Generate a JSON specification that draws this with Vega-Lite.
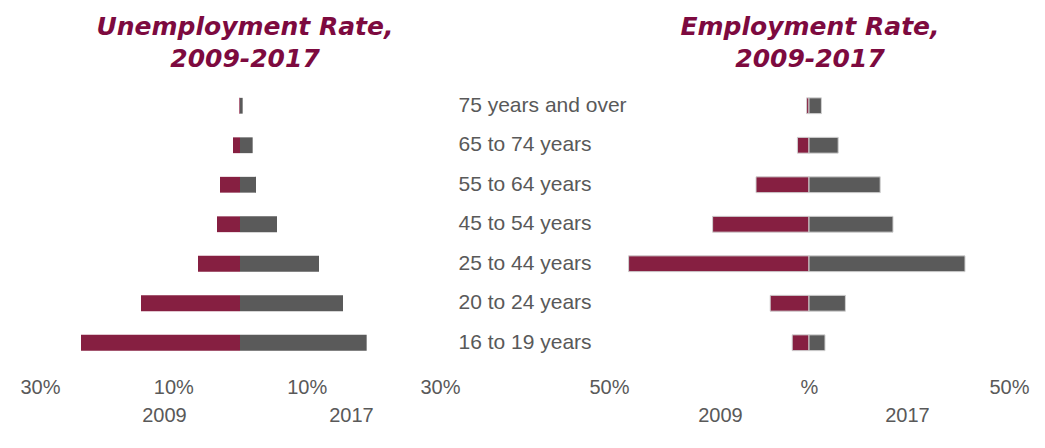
{
  "$schema": "https://vega.github.io/schema/vega-lite/v6.json",
  "background": "white",
  "padding": {"left": 19, "top": 15, "right": 5, "bottom": 5},
  "datasets": {
    "unemp": [
      {"age": "75 years and over", "year": "2009", "rate": 0.1},
      {"age": "75 years and over", "year": "2017", "rate": 0.4},
      {"age": "65 to 74 years", "year": "2009", "rate": 1.05},
      {"age": "65 to 74 years", "year": "2017", "rate": 1.9},
      {"age": "55 to 64 years", "year": "2009", "rate": 3.0},
      {"age": "55 to 64 years", "year": "2017", "rate": 2.4},
      {"age": "45 to 54 years", "year": "2009", "rate": 3.45},
      {"age": "45 to 54 years", "year": "2017", "rate": 5.55},
      {"age": "25 to 44 years", "year": "2009", "rate": 6.3},
      {"age": "25 to 44 years", "year": "2017", "rate": 11.85},
      {"age": "20 to 24 years", "year": "2009", "rate": 14.85},
      {"age": "20 to 24 years", "year": "2017", "rate": 15.45},
      {"age": "16 to 19 years", "year": "2009", "rate": 23.85},
      {"age": "16 to 19 years", "year": "2017", "rate": 19.0}
    ],
    "emp": [
      {"age": "75 years and over", "year": "2009", "rate": 0.6},
      {"age": "75 years and over", "year": "2017", "rate": 3.1},
      {"age": "65 to 74 years", "year": "2009", "rate": 2.9},
      {"age": "65 to 74 years", "year": "2017", "rate": 7.3},
      {"age": "55 to 64 years", "year": "2009", "rate": 13.25},
      {"age": "55 to 64 years", "year": "2017", "rate": 17.8},
      {"age": "45 to 54 years", "year": "2009", "rate": 24.1},
      {"age": "45 to 54 years", "year": "2017", "rate": 21.0},
      {"age": "25 to 44 years", "year": "2009", "rate": 45.1},
      {"age": "25 to 44 years", "year": "2017", "rate": 39.0},
      {"age": "20 to 24 years", "year": "2009", "rate": 9.7},
      {"age": "20 to 24 years", "year": "2017", "rate": 9.1},
      {"age": "16 to 19 years", "year": "2009", "rate": 4.2},
      {"age": "16 to 19 years", "year": "2017", "rate": 4.0}
    ]
  },
  "hconcat": [
    {
      "width": 400,
      "height": 276.5,
      "title": {
        "text": ["Unemployment Rate,", "2009-2017"],
        "anchor": "middle",
        "frame": "group",
        "dx": 5,
        "font": "DejaVu Sans",
        "fontSize": 25,
        "fontStyle": "italic",
        "fontWeight": "bold",
        "color": "#7d0a3f",
        "lineHeight": 32,
        "offset": 14
      },
      "data": {"name": "unemp"},
      "layer": [
        {
          "transform": [{"filter": "datum.year == '2009'"}],
          "mark": {"type": "bar", "color": "#861f41"},
          "encoding": {
            "y": {
              "field": "age", "type": "nominal",
              "sort": ["75 years and over", "65 to 74 years", "55 to 64 years", "45 to 54 years", "25 to 44 years", "20 to 24 years", "16 to 19 years"],
              "scale": {"paddingInner": 0.6, "paddingOuter": 0.3},
              "axis": null
            },
            "x": {
              "field": "rate", "type": "quantitative",
              "scale": {"domain": [-30, 30], "reverse": true, "nice": false},
              "axis": {"orient": "bottom", "values": [10, 30], "labelExpr": "datum.value + '%'", "title": "2009", "titleX": 124, "titleY": 59}
            }
          }
        },
        {
          "transform": [{"filter": "datum.year == '2017'"}],
          "mark": {"type": "bar", "color": "#5a5a5a"},
          "encoding": {
            "y": {
              "field": "age", "type": "nominal",
              "sort": ["75 years and over", "65 to 74 years", "55 to 64 years", "45 to 54 years", "25 to 44 years", "20 to 24 years", "16 to 19 years"],
              "axis": null
            },
            "x": {
              "field": "rate", "type": "quantitative",
              "scale": {"domain": [-30, 30], "nice": false},
              "axis": {"orient": "bottom", "values": [10, 30], "labelExpr": "datum.value + '%'", "title": "2017", "titleX": 311, "titleY": 59}
            }
          }
        }
      ],
      "resolve": {"scale": {"x": "independent"}, "axis": {"x": "independent"}}
    },
    {
      "width": 400,
      "height": 276.5,
      "title": {
        "text": ["Employment Rate,", "2009-2017"],
        "anchor": "middle",
        "frame": "group",
        "dx": 1,
        "font": "DejaVu Sans",
        "fontSize": 25,
        "fontStyle": "italic",
        "fontWeight": "bold",
        "color": "#7d0a3f",
        "lineHeight": 32,
        "offset": 14
      },
      "data": {"name": "emp"},
      "layer": [
        {
          "transform": [{"filter": "datum.year == '2009'"}],
          "mark": {"type": "bar", "color": "#861f41", "stroke": "#d0d0d0", "strokeWidth": 1},
          "encoding": {
            "y": {
              "field": "age", "type": "nominal",
              "sort": ["75 years and over", "65 to 74 years", "55 to 64 years", "45 to 54 years", "25 to 44 years", "20 to 24 years", "16 to 19 years"],
              "scale": {"paddingInner": 0.6, "paddingOuter": 0.3},
              "axis": {"orient": "left", "title": null, "labelAlign": "left", "labelBaseline": "middle", "labelPadding": 151, "labelFontSize": 21, "labelLimit": 0}
            },
            "x": {
              "field": "rate", "type": "quantitative",
              "scale": {"domain": [-50, 50], "reverse": true, "nice": false},
              "axis": {"orient": "bottom", "values": [50], "labelExpr": "datum.value + '%'", "title": "2009", "titleX": 111, "titleY": 59}
            }
          }
        },
        {
          "transform": [{"filter": "datum.year == '2017'"}],
          "mark": {"type": "bar", "color": "#5a5a5a", "stroke": "#d0d0d0", "strokeWidth": 1},
          "encoding": {
            "y": {
              "field": "age", "type": "nominal",
              "sort": ["75 years and over", "65 to 74 years", "55 to 64 years", "45 to 54 years", "25 to 44 years", "20 to 24 years", "16 to 19 years"]
            },
            "x": {
              "field": "rate", "type": "quantitative",
              "scale": {"domain": [-50, 50], "nice": false},
              "axis": {"orient": "bottom", "values": [0, 50], "labelExpr": "datum.value == 0 ? '%' : datum.value + '%'", "title": "2017", "titleX": 298, "titleY": 59}
            }
          }
        }
      ],
      "resolve": {"scale": {"x": "independent"}, "axis": {"x": "independent"}}
    }
  ],
  "bounds": "flush",
  "spacing": 169,
  "config": {
    "view": {"stroke": null},
    "font": "Liberation Sans",
    "axis": {
      "domain": false,
      "ticks": false,
      "grid": false,
      "labelFont": "Liberation Sans",
      "labelFontSize": 20,
      "labelColor": "#595959",
      "labelPadding": 15,
      "labelFlush": false,
      "titleFont": "Liberation Sans",
      "titleFontSize": 20,
      "titleFontWeight": "normal",
      "titleColor": "#595959",
      "titleAlign": "center",
      "titleAnchor": null,
      "titleBaseline": "alphabetic",
      "titleAngle": 0
    }
  }
}
